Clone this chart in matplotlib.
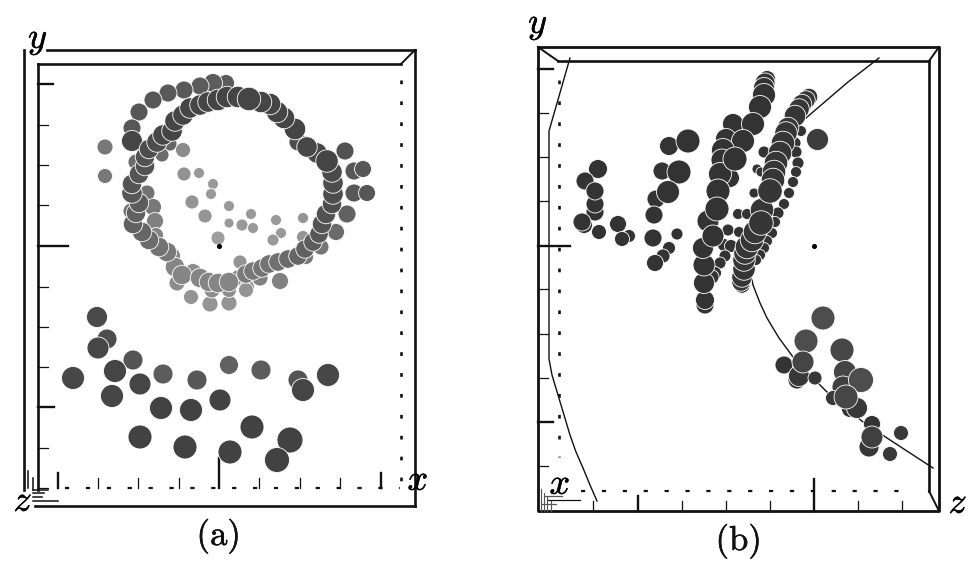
import matplotlib
matplotlib.use("Agg")
import matplotlib.pyplot as plt
import matplotlib.patheffects as pe
import numpy as np

plt.rcParams['mathtext.fontset'] = 'cm'

# ---------- panel (a): x, y, diameter, gray ----------
a_back_x = [226,213,200,184,168,153,139,132,170,162,136,147,153,155,156,131,172,193,280,260,177,238,247,191,210,229,246,212,229,321,306,336,347,354,367,354,363,345,298]
a_back_y = [83,83,86,90,93,100,112,128,144,155,162,193,207,221,235,211,256,272,281,278,283,278,287,297,304,303,290,290,290,247,257,232,214,193,193,171,169,151,142]
a_back_d = [15,17,16,16,16,16,16,16,12,12,14,14,15,15,13,14,15,15,15,14,14,14,13,13,14,14,13,14,13,14,13,15,16,16,15,16,15,16,16]
a_back_g = [.36,.36,.36,.35,.35,.34,.34,.34,.4,.42,.42,.45,.47,.5,.52,.45,.52,.55,.5,.5,.55,.5,.52,.58,.58,.58,.58,.55,.55,.46,.47,.42,.38,.34,.34,.34,.34,.32,.3]
a_side_x = [105,105,132]
a_side_y = [147,176,141]
a_side_d = [14,13,19]
a_side_g = [.47,.47,.27]
a_inner_x = [183,184,199,213,211,192,205,229,251,229,242,253,276,303,281,273,303,218,240]
a_inner_y = [150,174,173,184,194,202,216,206,214,223,225,228,220,218,233,240,237,238,262]
a_inner_d = [13,12,9,9,9,12,12,9,9,8,10,9,9,9,9,10,11,12,12]
a_inner_g = [.55,.57,.6,.6,.6,.58,.58,.6,.6,.6,.6,.6,.6,.58,.6,.6,.58,.62,.58]
a_ring_x = [175,182,200,209,218,229,246,253,262,269,278,288,298,305,313,319,322,326,332,333,333,332,317,307,295,284,277,270,261,
            167,159,149,142,133,136,139,132,132,139,145,145,149,157,163,172,175,183,190,200,208,218,227,238,327,249]
a_ring_y = [267,275,278,282,283,282,274,271,268,264,262,259,256,249,242,234,224,214,204,194,183,172,153,147,129,118,112,104,102,
            252,247,240,232,224,213,203,193,184,174,166,157,149,142,135,131,121,115,108,105,102,100,97,97,161,99]
a_ring_d = [16,16,16,16,16,16,15,15,15,15,15,15,15,15,15,15,16,16,16,17,17,17,17,17,18,18,18,18,18,
            16,16,16,16,16,16,16,17,16,16,16,16,16,17,17,17,17,17,17,17,17,18,18,18,19,20]
a_ring_g = [.52,.52,.52,.52,.52,.52,.48,.47,.46,.45,.44,.42,.4,.38,.36,.34,.33,.32,.3,.3,.3,.29,.28,.28,.27,.27,.27,.27,.27,
            .47,.45,.42,.4,.38,.38,.36,.34,.33,.33,.32,.32,.3,.3,.28,.27,.27,.27,.27,.27,.27,.27,.27,.27,.27,.27]
a_low_x = [97,107,98,133,115,73,163,140,197,229,261,298,303,328,112,161,191,220,252,140,185,230,290,277]
a_low_y = [317,339,348,360,371,378,374,384,380,365,370,380,390,375,396,408,410,400,427,437,447,452,440,460]
a_low_d = [19,18,20,18,21,21,18,20,18,17,18,18,21,21,21,21,21,20,22,22,22,22,24,23]
a_low_g = [.29,.3,.28,.33,.27,.28,.36,.27,.34,.38,.36,.33,.27,.28,.27,.26,.26,.26,.26,.26,.26,.26,.26,.26]

# ---------- panel (b) ----------
b_left_x = [598,585,595,595,595,584,582,599,618,629,622,669,688,662,679,656,668,654,653,677,669,663,655]
b_left_y = [169,181,212,204,191,225,222,232,224,236,239,146,141,171,172,199,192,215,238,234,248,256,263]
b_left_d = [17,16,16,16,16,15,16,13,15,11,13,17,22,16,22,16,21,16,16,10,11,12,15]
b_small_x = [724,731,725,720,715,712,764,757,761,754,738,747,728,739,801,795,796,798,796,793,789,784,778,775,772,767,764,760,756]
b_small_y = [245,246,256,263,273,277,152,169,172,193,214,214,230,232,131,143,152,163,172,182,193,204,213,222,233,241,248,255,260]
b_small_d = [11,11,10,10,11,12,10,8,8,8,9,9,10,9,9,10,10,10,9,9,9,9,10,9,9,9,9,9,9]
b_band1_x = [705,705,704,704,703,708,713,730,767,765,764,764,760,733,753,726,743,723,722,720,718,717,735]
b_band1_y = [305,300,283,265,248,221,236,178,79,83,88,95,107,124,124,139,141,150,160,174,191,209,159]
b_band1_d = [15,16,18,19,18,19,19,16,14,17,18,20,20,18,20,18,20,20,19,20,21,21,21]
b_band2_x = [742,741,742,744,744,745,747,752,755,809,806,802,799,795,788,786,783,780,776,774,773,762,761,770]
b_band2_y = [285,282,277,269,260,253,247,240,232,97,100,104,109,116,128,133,143,153,163,172,180,210,223,191]
b_band2_d = [13,15,17,19,19,19,20,20,20,14,15,16,17,18,18,19,20,20,20,20,20,20,21,21]
b_iso_x = [817]
b_iso_y = [139]
b_iso_d = [20]
b_low_x = [823,806,842,784,797,799,803,815,845,843,861,833,850,857,846,872,901,869,872,890]
b_low_y = [318,341,350,365,380,376,362,378,372,387,380,398,409,408,397,424,433,447,437,454]
b_low_d = [22,22,22,16,16,19,20,12,21,20,23,13,15,19,22,15,13,18,20,13]
b_low_g = [.3,.3,.28,.2,.2,.22,.27,.22,.27,.25,.3,.22,.2,.22,.28,.2,.22,.22,.25,.22]

# ---------- ticks and curves ----------
a_yticks = [84,125,165,205,246,287,327,367,407,448,488]
a_ylens = [15,10,10,10,30,10,10,10,16,10,10]
a_xticks = [58,98,138,179,219,259,300,340,381]
a_xlens = [15,10,10,10,30,10,10,10,15]
b_yticks = [69,113,157,201,246,289,334,378,422,466]
b_ylens = [15,10,10,10,32,10,10,10,15,10]
b_xticks = [593,638,682,726,770,814,858,902]
b_xlens = [10,15,10,10,10,32,10,10]
curve1_x = [570,549,549,552,558,564,570,576,583,590,597]
curve1_y = [58,131,359,375,395,415,435,452,468,485,501]
curve2_x = [879,848,806]
curve2_y = [58,82,118]
curve3_x = [752,753,760,767,779,793,810,827,845,863,887,910,933]
curve3_y = [280,285,303,318,338,357,375,392,407,422,438,453,468]

fig = plt.figure(figsize=(9.77, 5.67), dpi=100)
ax = fig.add_axes([0, 0, 1, 1])
ax.set_xlim(0, 977)
ax.set_ylim(567, 0)
ax.axis('off')

K = '#111111'
def seg(xs, ys, lw=1.9, **kw):
    ax.plot(xs, ys, color=K, lw=lw, solid_capstyle='projecting', zorder=1, **kw)

def dots(x, y, d, g, extra=2.0):
    c = [(v, v, v) for v in (g if np.ndim(g) else [g] * len(x))]
    ax.scatter(x, y, s=((np.array(d) + extra) * 0.72) ** 2, c=c, edgecolors='white',
               linewidths=0.6, zorder=3)

def dotted_v(x, y0, y1):
    ax.plot([x, x], [y0, y1], color=K, lw=1.9, dashes=(1.4, 6.52), zorder=1)

def dashed_h(y, x0, x1):
    ax.plot([x0, x1], [y, y], color=K, lw=1.6, dashes=(1.9, 7.5), zorder=1)

# panel (a) frame
seg([24, 24], [50, 490]); seg([38, 38], [64, 490]); seg([47, 415], [50, 50])
seg([38, 401], [64, 64]); seg([415, 415], [50, 506]); seg([35, 415], [506, 506])
seg([401, 415], [64, 50], lw=1.4)
dotted_v(401, 79.5, 487)
dashed_h(488, 65, 400)
for y, l in zip(a_yticks, a_ylens):
    seg([38, 38 + l], [y, y], lw=1.7 if l >= 15 else 0.9)
for x, l in zip(a_xticks, a_xlens):
    seg([x, x], [488, 488 - l], lw=1.7 if l >= 15 else 0.9)
seg([28, 28], [471, 488], lw=1.1); seg([33, 33], [478, 490], lw=1.1)
for y, x2 in [(490, 48), (493, 44), (497, 42), (501, 58)]:
    seg([33, x2], [y, y], lw=1.1)
ax.scatter([219], [246], s=7, color='black', zorder=4)

# panel (b) frame
seg([538, 939, 939, 538, 538], [47, 47, 511, 511, 47], lw=2.0)
seg([558, 929], [61, 61]); seg([929, 929], [61, 491])
seg([538, 558], [47, 61], lw=1.4); seg([939, 929], [47, 61], lw=1.4); seg([929, 939], [491, 511], lw=1.4)
dotted_v(559, 79.5, 457)
dashed_h(491, 581, 915)
for y, l in zip(b_yticks, b_ylens):
    seg([538, 538 + l], [y, y], lw=1.7 if l >= 15 else 0.9)
for x, l in zip(b_xticks, b_xlens):
    seg([x, x], [511, 511 - l], lw=1.7 if l >= 15 else 0.9)
for x, l in [(541, 22), (544, 18), (547, 14), (551, 10)]:
    ax.plot([x, x], [511, 511 - l], color='#555555', lw=0.8, zorder=1)
for y, x0, x1 in [(496, 545, 562), (500, 548, 580), (504, 542, 556)]:
    ax.plot([x0, x1], [y, y], color=K if x1 == 580 else '#555555', lw=0.9, zorder=1)
for xs, ys in [(curve1_x, curve1_y), (curve2_x, curve2_y), (curve3_x, curve3_y)]:
    ax.plot(xs, ys, color=K, lw=1.0, zorder=2)
ax.scatter([814], [246], s=7, color='black', zorder=4)

# marks
dots(a_back_x, a_back_y, a_back_d, a_back_g)
dots(a_side_x, a_side_y, a_side_d, a_side_g)
dots(a_inner_x, a_inner_y, a_inner_d, a_inner_g)
dots(a_ring_x, a_ring_y, a_ring_d, a_ring_g, extra=3.5)
dots(a_low_x, a_low_y, a_low_d, a_low_g)
dots(b_left_x, b_left_y, b_left_d, .2)
dots(b_small_x, b_small_y, b_small_d, .2)
dots(b_band1_x, b_band1_y, b_band1_d, .2, extra=3)
dots(b_band2_x, b_band2_y, b_band2_d, .21, extra=3.5)
dots(b_iso_x, b_iso_y, b_iso_d, .24)
dots(b_low_x, b_low_y, b_low_d, b_low_g)

# labels
stroke = [pe.withStroke(linewidth=0.35, foreground='black')]
labels = [('$y$', 38, 40), ('$x$', 418, 480), ('$z$', 23, 501),
          ('$y$', 538, 25), ('$x$', 560, 484), ('$z$', 958, 503)]
for s, x, y in labels:
    ax.text(x, y, s, fontsize=26, ha='center', va='center', color='black', zorder=6,
            path_effects=stroke)
for s, x, y in [(r'$\mathrm{(a)}$', 218, 536), (r'$\mathrm{(b)}$', 738, 541)]:
    ax.text(x, y, s, fontsize=25, ha='center', va='center', color='#111111', zorder=6,
            path_effects=stroke)

fig.savefig('out.png', dpi=100)
